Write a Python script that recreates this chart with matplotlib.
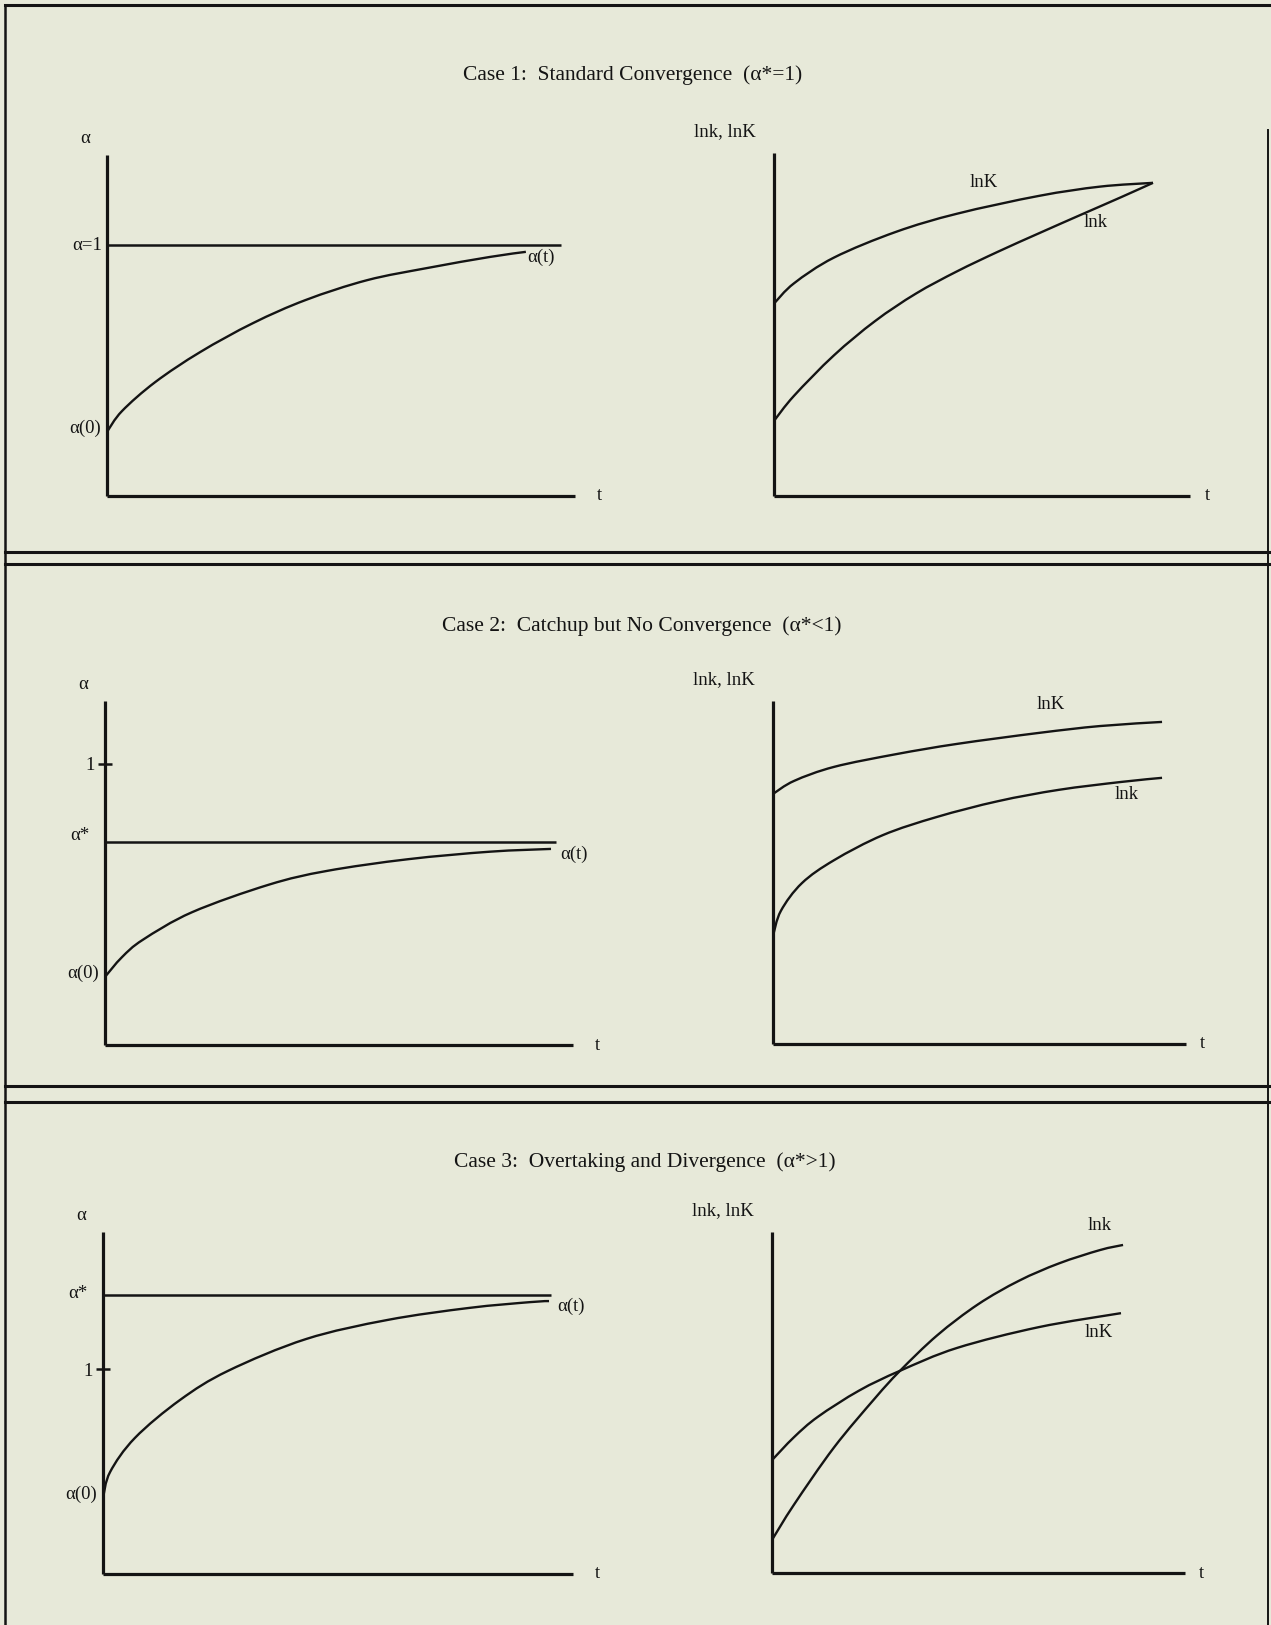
import matplotlib
matplotlib.use("Agg")
import matplotlib.pyplot as plt
from matplotlib.lines import Line2D
from matplotlib.path import Path
from matplotlib.patches import PathPatch

plt.rcParams['font.family'] = ['Liberation Serif', 'DejaVu Serif']

W, H = 1271, 1625
BG = '#e7e9d9'
INK = '#141414'

# ---- data (axis units: 0..100 on both axes) ----
titles = [
    "Case 1:  Standard Convergence  (α*=1)",
    "Case 2:  Catchup but No Convergence  (α*<1)",
    "Case 3:  Overtaking and Divergence  (α*>1)",
]

# Case 1 — alpha path
c1_t = [0, 3.2, 10.3, 19.9, 31.2, 42.5, 55.6, 68.6, 81.8, 89.5]
c1_alpha = [18.8, 24.9, 33.4, 42.2, 50.7, 57.5, 63.3, 66.9, 70.1, 71.6]
c1_alpha_star = 73.6
c1_line_end = 97.0
# Case 1 — ln k and ln K
c1_K_t = [0, 4.8, 14.4, 29.3, 44.0, 63.7, 78.4, 91.1]
c1_lnK = [56.1, 62.0, 69.5, 77.0, 82.3, 87.5, 90.2, 91.3]
c1_k_t = [0, 4.8, 14.4, 24.3, 34.1, 44.0, 53.8, 63.7, 73.6, 83.4, 91.1]
c1_lnk = [21.9, 29.2, 41.0, 51.0, 59.0, 65.5, 71.2, 76.6, 81.9, 87.1, 91.3]

# Case 2 — alpha path
c2_t = [0, 3.6, 8.1, 18.6, 35.0, 47.4, 64.7, 82.3, 95.3]
c2_alpha = [19.8, 25.5, 30.6, 38.6, 46.6, 50.6, 54.0, 56.2, 57.0]
c2_alpha_star = 59.0
c2_one = 81.7
c2_line_end = 96.4
# Case 2 — ln k and ln K
c2_K_t = [0, 5.1, 14.8, 29.8, 44.6, 64.4, 79.2, 94.2]
c2_lnK = [72.9, 76.7, 80.8, 84.5, 87.5, 90.7, 92.7, 93.9]
c2_k_t = [0, 1.9, 7.0, 14.8, 26.6, 39.7, 54.5, 69.2, 84.3, 94.2]
c2_lnk = [31.5, 38.8, 46.9, 53.6, 60.9, 66.2, 70.8, 74.1, 76.4, 77.6]

# Case 3 — alpha path
c3_t = [0, 1.5, 6.8, 16.4, 26.6, 43.2, 60.6, 77.9, 90.9, 94.9]
c3_alpha = [22.2, 29.8, 39.8, 50.9, 59.4, 68.7, 74.3, 77.8, 79.5, 79.8]
c3_alpha_star = 81.6
c3_one = 59.9
c3_line_end = 95.3
# Case 3 — ln k and ln K
c3_K_t = [0, 5.3, 11.1, 21.1, 31.0, 44.8, 64.6, 84.5]
c3_lnK = [33.1, 39.8, 45.8, 53.5, 59.3, 66.0, 72.1, 76.2]
c3_k_t = [0, 5.3, 15.0, 24.9, 31.0, 40.0, 49.9, 59.8, 69.5, 79.4, 85.0]
c3_lnk = [9.7, 20.0, 36.8, 51.2, 59.3, 69.7, 78.8, 85.7, 90.8, 94.7, 96.2]

fig = plt.figure(figsize=(W / 100, H / 100), dpi=100, facecolor=BG)

TXT = dict(fontsize=13.5, color=INK)


def px_axes(x0, y0, x1, y1):
    """Axes whose origin is at pixel (x0, y0) and far corner at (x1, y1)."""
    ax = fig.add_axes([x0 / W, 1 - y0 / H, (x1 - x0) / W, (y0 - y1) / H])
    ax.set_xlim(0, 100)
    ax.set_ylim(0, 100)
    ax.patch.set_visible(False)
    for s in ('top', 'right'):
        ax.spines[s].set_visible(False)
    for s in ('left', 'bottom'):
        ax.spines[s].set_linewidth(2.3)
        ax.spines[s].set_color(INK)
        ax.spines[s].set_capstyle('butt')
    ax.set_xticks([])
    ax.set_yticks([])
    return ax


def smooth_curve(ax, xs, ys, lw=1.7):
    """Draw a smooth curve through the points with cubic Bezier segments."""
    pts = list(zip(xs, ys))
    n = len(pts)
    verts = [pts[0]]
    codes = [Path.MOVETO]
    for i in range(n - 1):
        p0 = pts[i - 1] if i > 0 else pts[i]
        p1 = pts[i]
        p2 = pts[i + 1]
        p3 = pts[i + 2] if i + 2 < n else pts[i + 1]
        c1 = (p1[0] + (p2[0] - p0[0]) / 6, p1[1] + (p2[1] - p0[1]) / 6)
        c2 = (p2[0] - (p3[0] - p1[0]) / 6, p2[1] - (p3[1] - p1[1]) / 6)
        verts += [c1, c2, p2]
        codes += [Path.CURVE4] * 3
    ax.add_patch(PathPatch(Path(verts, codes), fill=False, edgecolor=INK,
                           lw=lw, capstyle='butt'))


def alpha_panel(ax, t, a, a_star, line_end, star_label, one=None, lab_dx=0.0):
    ax.hlines(a_star, 0, line_end, color=INK, lw=1.8)
    smooth_curve(ax, t, a)
    ax.text(-4.6, 104.7, 'α', ha='center', va='center', **TXT)
    ax.text(105.3, 0, 't', ha='center', va='center', **TXT)
    ax.text(-1.2, a[0] + 1.0, 'α(0)', ha='right', va='center', **TXT)
    ax.text(star_label[1], a_star + star_label[2], star_label[0],
            ha='right', va='center', **TXT)
    ax.text(t[-1] + lab_dx, a[-1] - 1.5, 'α(t)', ha='left', va='center', **TXT)
    if one is not None:
        ax.set_yticks([one])
        ax.set_yticklabels(['1'])
        ax.tick_params(axis='y', direction='inout', length=10, width=1.8,
                       color=INK, labelsize=13.5, labelcolor=INK, pad=2)


def capital_panel(ax, kt, lk, Kt, lK, k_lab, K_lab):
    smooth_curve(ax, Kt, lK)
    smooth_curve(ax, kt, lk)
    ax.text(-11.8, 106.2, 'lnk, lnK', ha='center', va='center', **TXT)
    ax.text(104.1, 0, 't', ha='center', va='center', **TXT)
    ax.text(k_lab[0], k_lab[1], 'lnk', ha='center', va='center', **TXT)
    ax.text(K_lab[0], K_lab[1], 'lnK', ha='center', va='center', **TXT)


# Case 1
ax = px_axes(107, 496, 575, 155)
alpha_panel(ax, c1_t, c1_alpha, c1_alpha_star, c1_line_end,
            ('α=1', -1.0, 0.0), lab_dx=0.3)
ax = px_axes(774, 496, 1190, 153)
capital_panel(ax, c1_k_t, c1_lnk, c1_K_t, c1_lnK, (77.4, 79.6), (50.5, 91.5))

# Case 2
ax = px_axes(105, 1045, 573, 701)
alpha_panel(ax, c2_t, c2_alpha, c2_alpha_star, c2_line_end,
            ('α*', -3.4, 1.8), one=c2_one, lab_dx=2.0)
ax = px_axes(773, 1044, 1186, 701)
capital_panel(ax, c2_k_t, c2_lnk, c2_K_t, c2_lnK, (85.7, 72.6), (67.3, 99.1))

# Case 3
ax = px_axes(103, 1574, 573, 1232)
alpha_panel(ax, c3_t, c3_alpha, c3_alpha_star, c3_line_end,
            ('α*', -3.4, 0.5), one=c3_one, lab_dx=1.7)
ax = px_axes(772, 1573, 1185, 1232)
capital_panel(ax, c3_k_t, c3_lnk, c3_K_t, c3_lnK, (79.4, 102.0), (79.2, 70.4))

# Titles
for (cx, cy), title in zip([(633, 75), (642, 626), (645, 1162)], titles):
    fig.text(cx / W, 1 - cy / H, title, ha='center', va='center',
             fontsize=15.5, color=INK)

# Frame and section dividers
def hline_px(y, x0=5, x1=1270, lw=2.2):
    fig.add_artist(Line2D([x0 / W, x1 / W], [1 - y / H, 1 - y / H],
                          transform=fig.transFigure, color=INK, lw=lw))


def vline_px(x, y0, y1, lw=1.8):
    fig.add_artist(Line2D([x / W, x / W], [1 - y0 / H, 1 - y1 / H],
                          transform=fig.transFigure, color=INK, lw=lw))


hline_px(5)
for y in (552, 564, 1086, 1102):
    hline_px(y)
vline_px(5, 5, 1625)
vline_px(1268, 130, 1625, lw=1.4)

fig.savefig('out.png', dpi=100, facecolor=BG)
